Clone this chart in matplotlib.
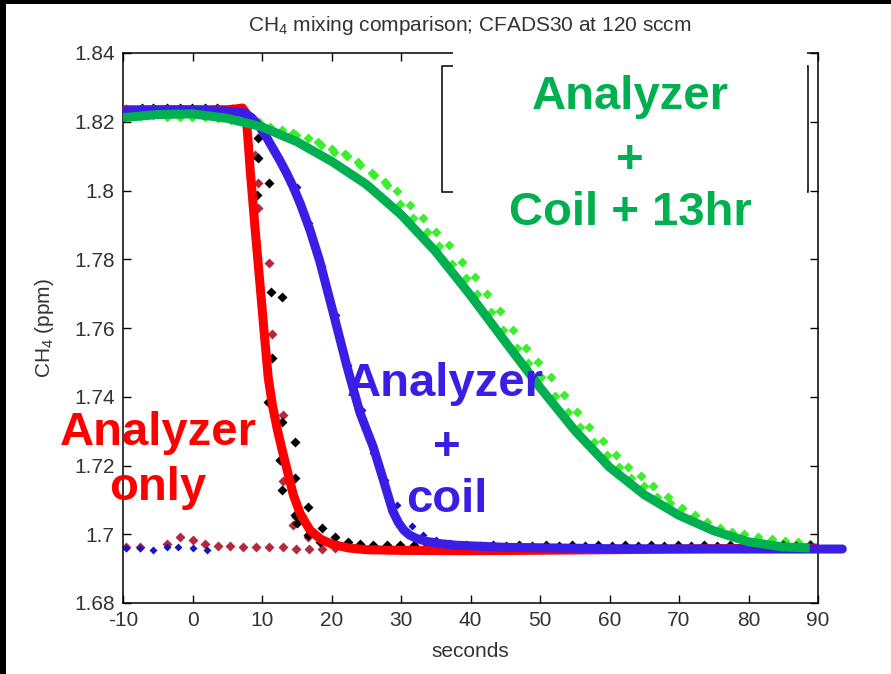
import matplotlib.pyplot as plt
from matplotlib.patches import Rectangle

plt.rcParams['font.family'] = ['Liberation Sans', 'DejaVu Sans']
plt.rcParams['mathtext.fontset'] = 'custom'
plt.rcParams['mathtext.rm'] = 'Liberation Sans'
plt.rcParams['mathtext.default'] = 'regular'
plt.rcParams['axes.unicode_minus'] = False

# fitted curves (thick lines)
red_fit_x = [-10, -5, 0, 5, 6.5, 7.2, 7.7, 8.3, 9.0, 9.7, 10.3, 10.9, 11.5, 12.2, 12.9, 13.7,
             14.5, 15.5, 16.9, 18.5, 20.2, 22.5, 25, 30, 40, 60, 75, 90.3]
red_fit_y = [1.8235, 1.8235, 1.8235, 1.8235, 1.8238, 1.8240, 1.8225, 1.806, 1.789, 1.773, 1.759,
             1.7455, 1.7375, 1.7305, 1.7245, 1.7180, 1.7115, 1.7060, 1.7012, 1.6985, 1.6970,
             1.6960, 1.6955, 1.6953, 1.6952, 1.6955, 1.6958, 1.6960]

blue_fit_x = [-9.5, -5, 0, 5, 7.5, 8.5, 9.5, 10.5, 11.5, 12.5, 13.5, 14.5, 15.5, 16.9, 18.3, 20.2,
              22.2, 24.1, 26.0, 27.4, 28.8, 29.6, 30.4, 31.2, 32.2, 33.5, 35.5, 38, 45, 60, 80, 93.5]
blue_fit_y = [1.8232, 1.8234, 1.8234, 1.8231, 1.8226, 1.8212, 1.8190, 1.8160, 1.8125, 1.8090,
              1.8052, 1.8010, 1.7962, 1.7885, 1.7795, 1.7648, 1.7490, 1.7353, 1.7254, 1.7162,
              1.7068, 1.7035, 1.7012, 1.6998, 1.6988, 1.6980, 1.6973, 1.6968, 1.6962, 1.6958,
              1.6957, 1.6957]

green_fit_x = [-10, -5, 0, 5, 10, 15, 20, 25, 30, 35, 40, 45, 50, 55, 60, 65, 70, 75, 80, 85,
               88.8]
green_fit_y = [1.8212, 1.8221, 1.8223, 1.8210, 1.8185, 1.8142, 1.8085, 1.8018, 1.7930, 1.7822,
               1.7695, 1.7560, 1.7427, 1.7302, 1.7195, 1.7115, 1.7055, 1.7010, 1.6978, 1.6963,
               1.6960]

# measured points
lime_x = [-9.5, -7.6, -5.7, -3.7, -1.8, -0.1, 1.8, 3.7, 5.6, 7.5,
          9.5, 11.1, 12.9, 14.4, 14.9, 16.6, 18.1, 18.5, 20.1, 20.4, 21.9, 22.3, 23.8, 24.1,
          25.8, 26.1, 27.7, 28.0, 29.4,
          29.9, 31.3, 31.7, 33.2, 33.7, 35.0, 35.5, 36.9, 37.3, 38.8, 39.3, 40.7, 41.0, 42.4,
          42.9, 44.2, 44.7, 46.1, 46.7, 48.0, 48.3, 49.7, 50.1, 51.6, 52.2, 53.5, 54.0, 55.3,
          55.8, 57.1, 57.8, 59.1, 59.6, 60.9, 61.4, 62.7, 63.1, 64.5, 65.0, 66.3, 66.8, 68.4,
          68.7, 70.4, 72.3, 74.0, 75.9, 77.6, 79.4, 81.4, 83.4, 85.3, 87.1, 88.8]
lime_y = [1.8215, 1.8218, 1.8220, 1.8215, 1.8215, 1.8215, 1.8215, 1.8210, 1.8205, 1.8205,
          1.8200, 1.8186, 1.8176, 1.8168, 1.8161, 1.8153, 1.8140, 1.8132, 1.8120, 1.8113,
          1.8107, 1.8099, 1.8082, 1.8074, 1.8052, 1.8044, 1.8024, 1.8016, 1.8000,
          1.7962, 1.7958, 1.7920, 1.7920, 1.7880, 1.7880, 1.7839, 1.7841, 1.7786, 1.7792,
          1.7745, 1.7748, 1.7698, 1.7700, 1.7648, 1.7650, 1.7594, 1.7594, 1.7542, 1.7542,
          1.7498, 1.7501, 1.7457, 1.7457, 1.7402, 1.7405, 1.7356, 1.7356, 1.7312, 1.7312,
          1.7268, 1.7271, 1.7231, 1.7231, 1.7196, 1.7196, 1.7164, 1.7170, 1.7140, 1.7140,
          1.7108, 1.7108, 1.7090, 1.7076, 1.7056, 1.7036, 1.7018, 1.7007, 1.7001, 1.6992,
          1.6986, 1.6980, 1.6977, 1.6972]

black_x = [-9.5, -7.3, -5.7, -3.7, -1.8, -0.1, 1.8, 3.5, 5.7, 7.3,
           9.4, 9.4, 11.0, 9.3, 11.3, 12.9, 11.4, 10.9, 12.9, 14.7, 12.6, 14.7, 12.9, 16.6,
           14.7, 15.0, 16.6, 18.6, 18.3, 20.5, 22.4, 24.1, 26.0, 28.0, 29.9,
           31.8, 33.7, 35.6, 37.5, 39.4, 41.3, 43.2, 45.1, 47.0, 48.9, 50.8, 52.7, 54.6, 56.5,
           58.4, 60.3, 62.2, 64.1, 66.0, 67.9, 69.8, 71.7, 73.6, 75.5, 77.4, 79.3, 81.2, 83.1,
           85.0, 86.9, 88.8]
black_y = [1.8238, 1.8239, 1.8239, 1.8239, 1.8239, 1.8239, 1.8239, 1.8239, 1.8238, 1.8238,
           1.8153, 1.8095, 1.8022, 1.7987, 1.7705, 1.7690, 1.7513, 1.7385, 1.7327, 1.7268,
           1.7216, 1.7164, 1.7129, 1.7079, 1.7056, 1.7033, 1.6998, 1.7018, 1.6978, 1.6992,
           1.6977, 1.6972, 1.6970, 1.6969, 1.6969,
           1.6968, 1.6967, 1.6968, 1.6967, 1.6968, 1.6967, 1.6968, 1.6967, 1.6968, 1.6967,
           1.6968, 1.6967, 1.6968, 1.6967, 1.6968, 1.6967, 1.6968, 1.6967, 1.6968, 1.6967,
           1.6968, 1.6967, 1.6968, 1.6967, 1.6968, 1.6967, 1.6968, 1.6967, 1.6968, 1.6967,
           1.6968]

darkred_x = [-9.6, -7.6, -3.7, -1.8, 0.1, 1.8, 3.7, 5.4, 7.3, 9.1, 11.0, 13.0, 14.9, 16.8,
             18.6, 20.5,
             9.0, 9.4, 9.4, 11.0, 11.4, 13.0, 12.6, 13.0, 14.9, 14.5, 16.6]
darkred_y = [1.6963, 1.6963, 1.6971, 1.6992, 1.6983, 1.6972, 1.6966, 1.6966, 1.6963, 1.6963,
             1.6962, 1.6962, 1.6958, 1.6958, 1.6958, 1.6960,
             1.8103, 1.8022, 1.7949, 1.7789, 1.7583, 1.7347, 1.7216, 1.7155, 1.7050, 1.7027,
             1.6992]

bluept_x = [-9.5, -7.6, -5.7, -3.7, -2.1, 0.1, 2.1,
            15.0, 16.8, 18.6, 20.6, 22.4, 24.4, 26.0, 27.7, 29.4, 31.6, 33.2, 35.0, 37.0]
bluept_y = [1.6960, 1.6960, 1.6954, 1.6963, 1.6963, 1.6960, 1.6954,
            1.8010, 1.7905, 1.7780, 1.7638, 1.7492, 1.7361, 1.7236, 1.7158, 1.7085, 1.7024,
            1.6998, 1.6982, 1.6975]

xticks = [-10, 0, 10, 20, 30, 40, 50, 60, 70, 80, 90]
yticks = [1.68, 1.70, 1.72, 1.74, 1.76, 1.78, 1.80, 1.82, 1.84]
ytick_labels = ['1.68', '1.7', '1.72', '1.74', '1.76', '1.78', '1.8', '1.82', '1.84']

W, H = 891, 674
fig = plt.figure(figsize=(W / 100, H / 100), dpi=100)
ax = fig.add_axes([123 / W, 1 - 603 / H, 695 / W, 550 / H])

ax.plot(lime_x, lime_y, 'D', color='#3cee2e', ms=5.6, mec='none', zorder=2)
ax.plot(darkred_x, darkred_y, 'D', color='#b5283c', ms=4.6, mec='none', zorder=2)
ax.plot(black_x, black_y, 'D', color='black', ms=4.8, mec='none', zorder=2)
ax.plot(bluept_x, bluept_y, 'D', color='#1515c0', ms=4.2, mec='none', zorder=2)

ax.plot(red_fit_x, red_fit_y, color='#ff0000', lw=6.5, solid_capstyle='round',
        solid_joinstyle='round', zorder=3)
ax.plot(blue_fit_x, blue_fit_y, color='#3a1ee6', lw=6.5, solid_capstyle='round',
        solid_joinstyle='round', zorder=4, clip_on=False)
ax.plot(green_fit_x, green_fit_y, color='#00b050', lw=6.5, solid_capstyle='butt',
        solid_joinstyle='round', zorder=5)

ax.set_xlim(-10, 90)
ax.set_ylim(1.68, 1.84)
ax.set_xticks(xticks)
ax.set_yticks(yticks)
ax.set_yticklabels(ytick_labels)
ax.tick_params(direction='in', length=6, width=1, labelsize=15, labelcolor='#333333',
               top=True, right=True, pad=6)
for s in ax.spines.values():
    s.set_linewidth(1.1)

def px(x, y):
    return x / W, 1 - y / H

# legend frame (empty) and the white text box over it
fig.add_artist(Rectangle(px(442, 192), (808 - 442) / W, (192 - 66) / H, transform=fig.transFigure,
                         fill=False, edgecolor='black', lw=1.1, zorder=1))
fig.add_artist(Rectangle(px(453, 198), (807 - 453) / W, (198 - 47) / H, transform=fig.transFigure,
                         facecolor='white', edgecolor='none', zorder=2))

# black border strips
fig.add_artist(Rectangle((0, 1 - 4 / H), 1, 4 / H, transform=fig.transFigure,
                         facecolor='black', edgecolor='none', zorder=2))
fig.add_artist(Rectangle((0, 0), 6 / W, 1, transform=fig.transFigure,
                         facecolor='black', edgecolor='none', zorder=2))

fig.text(*px(470, 31), 'CH$_4$ mixing comparison; CFADS30 at 120 sccm', ha='center',
         va='baseline', fontsize=15, color='#333333')
fig.text(*px(470, 657), 'seconds', ha='center', va='baseline', fontsize=15, color='#333333')
fig.text(*px(44, 328), 'CH$_4$ (ppm)', ha='center', va='center', rotation=90, fontsize=15,
         color='#333333')

big = dict(ha='center', va='baseline', fontsize=34, fontweight='bold', zorder=3)
fig.text(*px(158, 445), 'Analyzer', color='#ff0000', **big)
fig.text(*px(158, 500), 'only', color='#ff0000', **big)
fig.text(*px(445, 396), 'Analyzer', color='#3a1ee6', **big)
fig.text(*px(447, 460), '+', color='#3a1ee6', **big)
fig.text(*px(447, 512), 'coil', color='#3a1ee6', **big)
fig.text(*px(630, 109), 'Analyzer', color='#00b050', **big)
fig.text(*px(630, 173), '+', color='#00b050', **big)
fig.text(*px(630, 225), 'Coil + 13hr', color='#00b050', **big)

fig.savefig('out.png', dpi=100)
